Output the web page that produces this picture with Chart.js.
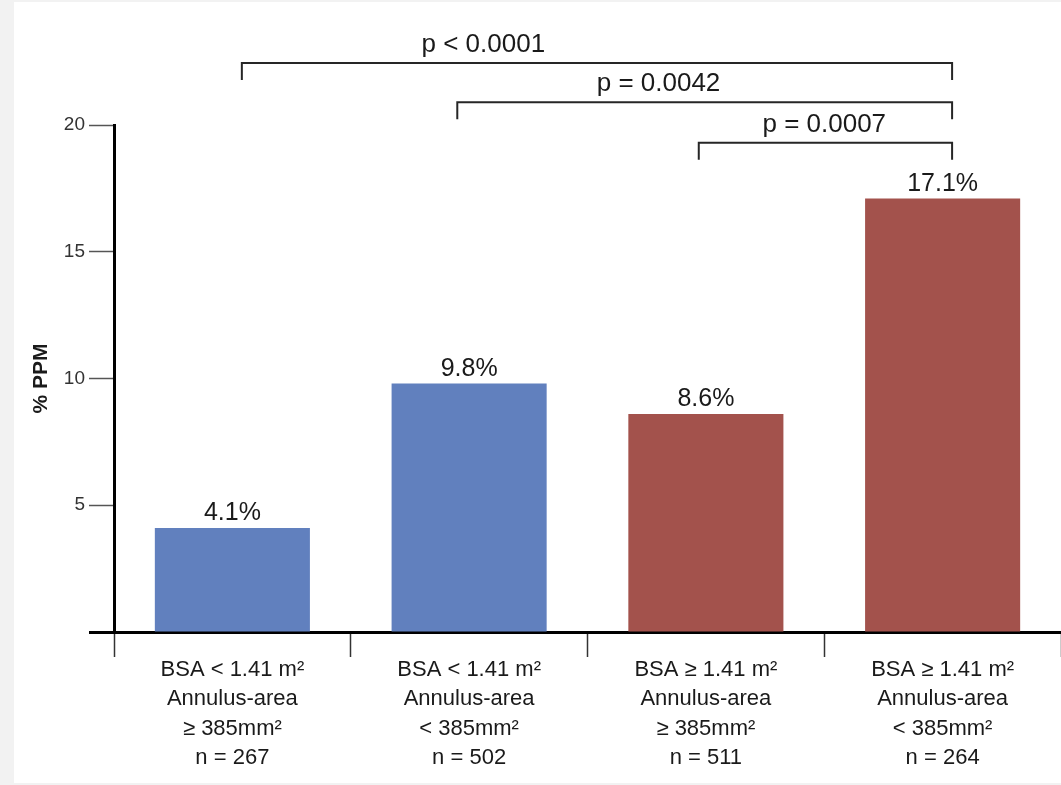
<!DOCTYPE html>
<html>
<head>
<meta charset="utf-8">
<script src="https://cdn.jsdelivr.net/npm/chart.js@4/dist/chart.umd.min.js"></script>
<style>
  html, body { margin: 0; padding: 0; background: #f2f2f2; }
  #panel { position: absolute; left: 14px; top: 2px; width: 1047px; height: 781px; background: #fff; }
  #c { position: absolute; left: 0; top: 0; }
</style>
</head>
<body>
<div id="panel"></div>
<canvas id="c" width="1061" height="785"></canvas>
<script>
// Groups by body surface area and annulus area
const categories = [
  ['BSA < 1.41 m²', 'Annulus-area', '≥ 385mm²', 'n = 267'],
  ['BSA < 1.41 m²', 'Annulus-area', '< 385mm²', 'n = 502'],
  ['BSA ≥ 1.41 m²', 'Annulus-area', '≥ 385mm²', 'n = 511'],
  ['BSA ≥ 1.41 m²', 'Annulus-area', '< 385mm²', 'n = 264']
];
// Incidence of patient-prosthesis mismatch (%)
const ppmRates = [4.1, 9.8, 8.6, 17.1];
const barColors = ['#6180be', '#6180be', '#a3524c', '#a3524c'];
// Y axis ticks
const yTicks = [0, 5, 10, 15, 20];
// Pairwise comparisons (category positions and bracket height in % units)
const pLabels = ['p < 0.0001', 'p = 0.0042', 'p = 0.0007'];
const pFrom = [0.04, 0.95, 1.97];
const pTo = [3.04, 3.04, 3.04];
const pLevel = [22.45, 20.9, 19.3];
const pTextAt = [1.06, 1.8, 2.5];

const FONT = '"Liberation Sans", Arial, sans-serif';

const valueLabels = {
  id: 'valueLabels',
  afterDatasetsDraw(chart) {
    const ctx = chart.ctx;
    const meta = chart.getDatasetMeta(0);
    ctx.save();
    ctx.font = '25px ' + FONT;
    ctx.fillStyle = '#1a1a1a';
    ctx.textAlign = 'center';
    ctx.textBaseline = 'bottom';
    meta.data.forEach((bar, i) => {
      ctx.fillText(ppmRates[i].toFixed(1) + '%', bar.x, bar.y - 2);
    });
    ctx.restore();
  }
};

const brackets = {
  id: 'brackets',
  afterDraw(chart) {
    const ctx = chart.ctx;
    const xs = chart.scales.x, ys = chart.scales.y;
    ctx.save();
    ctx.strokeStyle = '#262626';
    ctx.lineWidth = 2;
    ctx.font = '26px ' + FONT;
    ctx.fillStyle = '#1a1a1a';
    ctx.textAlign = 'center';
    ctx.textBaseline = 'middle';
    pLabels.forEach((label, i) => {
      const x1 = xs.getPixelForValue(pFrom[i]);
      const x2 = xs.getPixelForValue(pTo[i]);
      const y = ys.getPixelForValue(pLevel[i]);
      ctx.beginPath();
      ctx.moveTo(x1, y + 17);
      ctx.lineTo(x1, y);
      ctx.lineTo(x2, y);
      ctx.lineTo(x2, y + 17);
      ctx.stroke();
      ctx.fillText(label, xs.getPixelForValue(pTextAt[i]), y - 18);
    });
    ctx.restore();
  }
};

new Chart(document.getElementById('c'), {
  type: 'bar',
  data: {
    labels: categories,
    datasets: [{
      data: ppmRates,
      backgroundColor: barColors,
      borderWidth: 0,
      barPercentage: 0.655,
      categoryPercentage: 1.0
    }]
  },
  options: {
    responsive: false,
    devicePixelRatio: 1,
    animation: false,
    layout: { padding: { top: 125, left: 0, right: 0, bottom: 0 } },
    plugins: { legend: { display: false }, tooltip: { enabled: false } },
    scales: {
      x: {
        afterFit(scale) { scale.height = 153; },
        border: { display: true, color: '#000', width: 3 },
        grid: {
          offset: true,
          drawOnChartArea: false,
          drawTicks: true,
          tickLength: 25,
          tickColor: '#333',
          tickWidth: 1.5
        },
        ticks: {
          padding: -2,
          color: '#1a1a1a',
          font: { family: FONT, size: 22, lineHeight: 1.34 }
        }
      },
      y: {
        min: 0,
        max: 20,
        afterFit(scale) { scale.width = 114; },
        afterBuildTicks(scale) { scale.ticks = yTicks.map(v => ({ value: v })); },
        border: { display: true, color: '#000', width: 3 },
        grid: {
          drawOnChartArea: false,
          drawTicks: true,
          tickLength: 25,
          tickColor: c => (c.tick && c.tick.value === 0 ? '#000' : '#555'),
          tickWidth: c => (c.tick && c.tick.value === 0 ? 3 : 1.5)
        },
        ticks: {
          padding: 4,
          color: '#333',
          font: { family: FONT, size: 19 },
          callback: v => (v === 0 ? '' : String(v))
        },
        title: {
          display: true,
          text: '% PPM',
          color: '#1a1a1a',
          font: { family: FONT, size: 21, weight: 'bold' },
          padding: { top: 29, bottom: 0 }
        }
      }
    }
  },
  plugins: [valueLabels, brackets]
});
</script>
</body>
</html>
